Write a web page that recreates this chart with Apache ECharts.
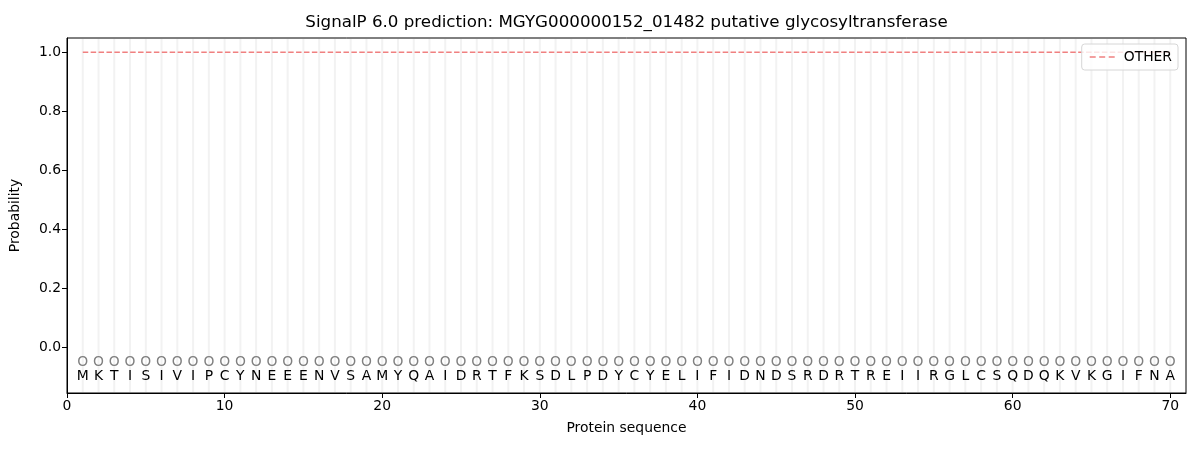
<!DOCTYPE html>
<html><head><meta charset="utf-8">
<script src="https://cdn.jsdelivr.net/npm/echarts@6/dist/echarts.min.js"></script>
<style>html,body{margin:0;padding:0;background:#fff}#c{width:1200px;height:450px}</style>
</head><body><div id="c"></div>
<script>
const sequence = ["M","K","T","I","S","I","V","I","P","C","Y","N","E","E","E","N","V","S","A","M","Y","Q","A","I","D","R","T","F","K","S","D","L","P","D","Y","C","Y","E","L","I","F","I","D","N","D","S","R","D","R","T","R","E","I","I","R","G","L","C","S","Q","D","Q","K","V","K","G","I","F","N","A"];
const positions = sequence.map((_, i) => i + 1);
const otherProb = [1,1,1,1,1,1,1,1,1,1,1,1,1,1,1,1,1,1,1,1,1,1,1,1,1,1,1,1,1,1,1,1,1,1,1,1,1,1,1,1,1,1,1,1,1,1,1,1,1,1,1,1,1,1,1,1,1,1,1,1,1,1,1,1,1,1,1,1,1,1];
const regionLabels = positions.map(() => "O");
const xTicks = [0,10,20,30,40,50,60,70];
const yTicks = [0,0.2,0.4,0.6,0.8,1.0];

const FONT = "DejaVu Sans";
const chart = echarts.init(document.getElementById('c'));
const textSeries = (labels, yVal, color) => ({
  type: 'custom',
  silent: true,
  data: positions.map((p, i) => [p, yVal, labels[i]]),
  renderItem: (params, api) => {
    const pt = api.coord([api.value(0), api.value(1)]);
    return { type: 'text', x: pt[0], y: pt[1], style: { text: labels[params.dataIndex], fill: color, font: '13.9px "' + FONT + '"', align: 'center', verticalAlign: 'middle' } };
  },
  z: 5
});
chart.setOption({
  animation: false,
  grid: { left: 67, right: 14, top: 38, bottom: 57, show: true, borderColor: '#000', borderWidth: 1, z: 10 },
  graphic: [{ type: 'text', x: 626.5, y: 23, style: { text: 'SignalP 6.0 prediction: MGYG000000152_01482 putative glycosyltransferase', font: '16.7px "' + FONT + '"', fill: '#000', align: 'center', verticalAlign: 'middle' } }],
  legend: {
    right: 22, top: 44,
    data: [{ name: 'OTHER', icon: 'path://M0,0h6v1.5h-6z M9.5,0h6v1.5h-6z M19,0h6v1.5h-6z' }],
    borderColor: '#d6d6d6', borderWidth: 1, borderRadius: 3, padding: [6, 6, 6, 8],
    backgroundColor: 'rgba(255,255,255,0.8)',
    itemWidth: 25, itemHeight: 1.5, itemGap: 8,
    textStyle: { fontFamily: FONT, fontSize: 13.9, color: '#000', padding: [0, 0, 0, 4] }
  },
  xAxis: {
    type: 'value', min: 0, max: 71,
    name: 'Protein sequence', nameLocation: 'middle', nameGap: 28,
    nameTextStyle: { fontFamily: FONT, fontSize: 13.9, color: '#000' },
    axisLine: { onZero: false, lineStyle: { color: '#000' } },
    axisTick: { customValues: xTicks, length: 5, lineStyle: { color: '#000' } },
    axisLabel: { customValues: xTicks, fontFamily: FONT, fontSize: 13.9, color: '#000', margin: 6 },
    splitLine: { show: false }
  },
  yAxis: {
    type: 'value', min: -0.155, max: 1.048,
    name: 'Probability', nameLocation: 'middle', nameGap: 45,
    nameTextStyle: { fontFamily: FONT, fontSize: 13.9, color: '#000' },
    axisLine: { onZero: false, lineStyle: { color: '#000' } },
    axisTick: { customValues: yTicks, length: 5, lineStyle: { color: '#000' } },
    axisLabel: { customValues: yTicks, fontFamily: FONT, fontSize: 13.9, color: '#000', margin: 6, formatter: v => v.toFixed(1) },
    splitLine: { show: false }
  },
  series: [
    {
      type: 'custom', silent: true, z: 1,
      data: positions.map(p => [p]),
      renderItem: (params, api) => {
        const top = api.coord([api.value(0), 1.048]);
        const bot = api.coord([api.value(0), -0.155]);
        return { type: 'line', shape: { x1: top[0], y1: top[1] + 1, x2: bot[0], y2: bot[1] - 1 }, style: { stroke: '#f2f2f2', lineWidth: 2 } };
      }
    },
    {
      name: 'OTHER', type: 'line', symbol: 'none', z: 3,
      data: positions.map((p, i) => [p, otherProb[i]]),
      lineStyle: { color: '#f08080', width: 1.5, type: [5.5, 2.4] },
      itemStyle: { color: '#f08080' }
    },
    textSeries(regionLabels, -0.05, '#808080'),
    textSeries(sequence, -0.1, '#000')
  ]
});
</script></body></html>
